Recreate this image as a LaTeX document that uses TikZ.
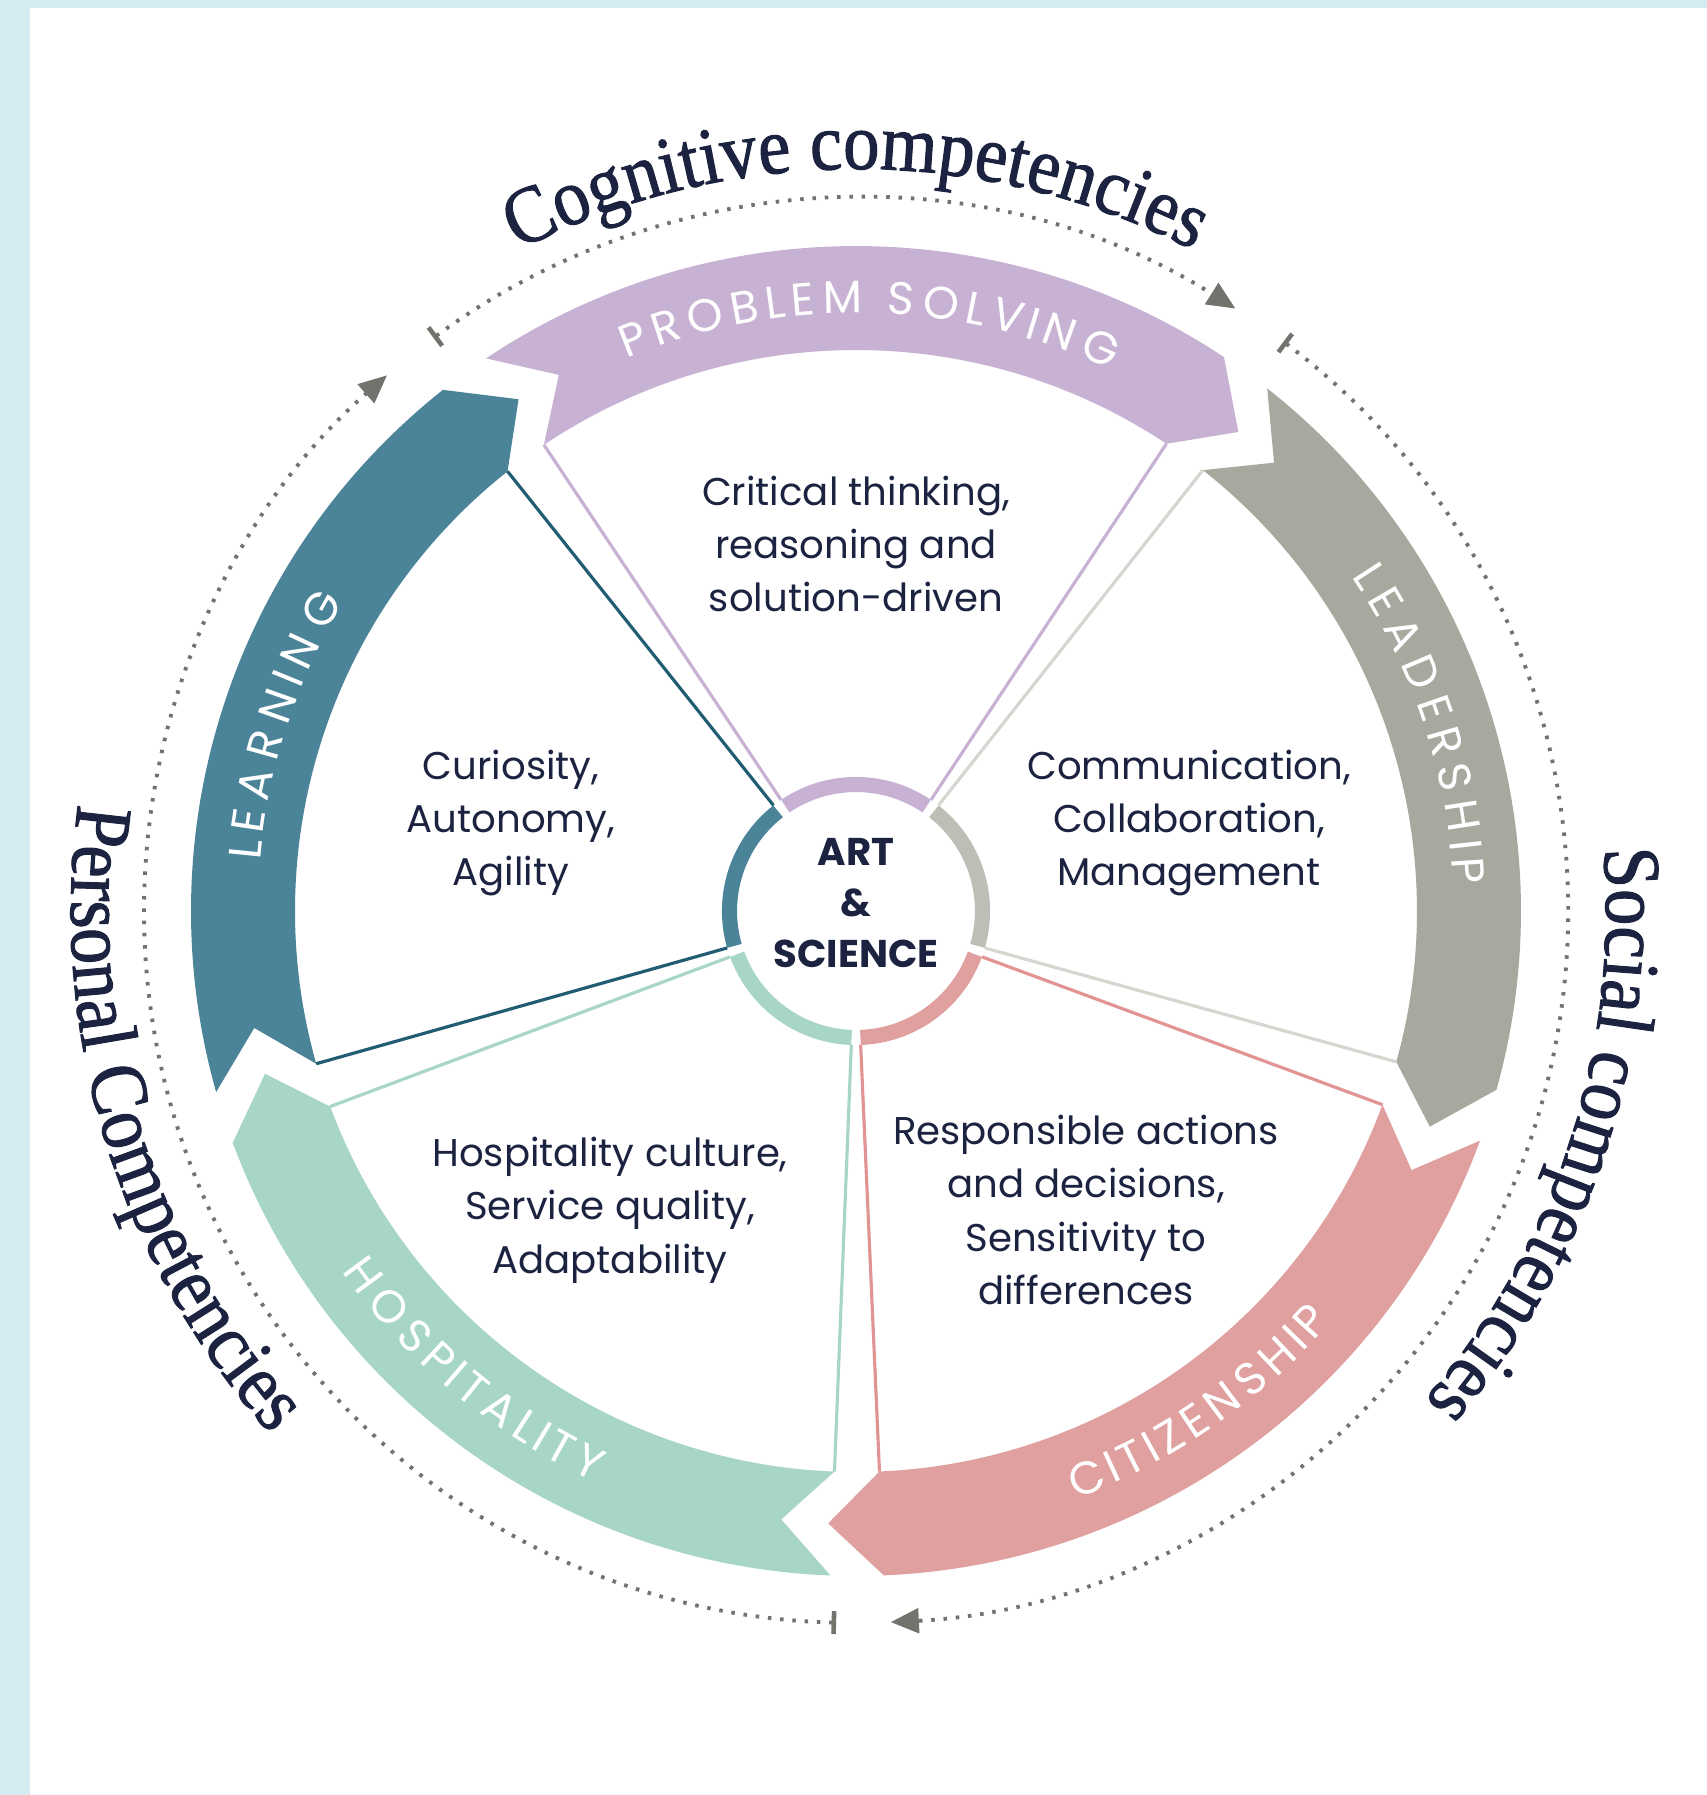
\documentclass[tikz,border=0pt]{standalone}
\usepackage{fontspec}
\usepackage{tikz}
\usetikzlibrary{positioning,arrows.meta,decorations.text}
\setmainfont{Poppins}
\newfontfamily\titlefont[FakeStretch=0.9,FakeBold=1.2]{Liberation Serif}
\newfontfamily\bandfont{Poppins}
\definecolor{bgblue}{RGB}{212,235,242}
\definecolor{navy}{RGB}{28,35,64}
\definecolor{lilac}{RGB}{199,178,211}
\definecolor{stone}{RGB}{168,168,158}
\definecolor{stonering}{RGB}{190,190,182}
\definecolor{stonelight}{RGB}{214,214,208}
\definecolor{rose}{RGB}{224,160,160}
\definecolor{rosedark}{RGB}{226,148,148}
\definecolor{mint}{RGB}{168,214,198}
\definecolor{petrol}{RGB}{75,131,153}
\definecolor{petroldark}{RGB}{32,92,114}
\definecolor{dotgray}{RGB}{112,116,108}

\begin{document}
\begin{tikzpicture}[
      blurb/.style={align=center,text=navy,font=\fontsize{11}{15.2}\selectfont},
      corenode/.style={align=center,text=navy,font=\bfseries\fontsize{11}{14.5}\selectfont},
      hub/.style={line width=4.3pt},
      spoke/.style={line width=0.9pt},
      cycleline/.style={dotgray,line width=1.1pt,dash pattern=on 1pt off 2.5pt,
        {Bar[width=6.5pt,line width=1.3pt]}-{Triangle[length=8pt,width=7pt]}},
      titletext/.style={decorate,decoration={text along path,text align=center,text color=navy,
        text={|\titlefont\fontsize{23}{27}\selectfont|#1}}},
      bandtext/.style={decorate,decoration={text effects along path,text={#1},
        text effects/.cd,text along path,fit text to path,
        characters={text=white,font=\bandfont\fontsize{13}{15}\selectfont}}}
    ]

  % background and frame
  \fill[bgblue] (-8.56,-8.84) rectangle (8.51,9.11);
  \fill[white] (-8.26,-8.84) rectangle (8.51,9.03);
  \useasboundingbox (-8.56,-8.84) rectangle (8.51,9.11);

  % the five arrows of the band
  \foreach \start/\col in {126/lilac,54/stone,-18/rose,-90/mint,198/petrol}
    \fill[\col] ({\start-2.2}:6.65) arc[start angle=\start-2.2,end angle=\start-69.6,radius=6.65]
      -- ({\start-74.6}:6.13) -- ({\start-69.6}:5.61)
      arc[start angle=\start-69.6,end angle=\start-2.2,radius=5.61]
      -- ({\start-7}:6.13) -- cycle;

  % the hub and the spokes
  \foreach \start/\col/\lin in {126/lilac/lilac,54/stonering/stonelight,-18/rose/rosedark,-90/mint/mint,198/petrol/petroldark} {
    \draw[hub,\col] ({\start-2}:1.265) arc[start angle=\start-2,end angle=\start-70,radius=1.265];
    \draw[spoke,\lin] ({\start-2}:1.34) -- ({\start-2.2}:5.61);
    \draw[spoke,\lin] ({\start-70}:1.34) -- ({\start-69.6}:5.61);
  }

  % centre
  \node[corenode] (core) at (0,0.08) {ART\\\&\\SCIENCE};

  % the five sectors
  \node[blurb] (crit) at (0,3.67) {Critical thinking,\\reasoning and\\solution-driven};
  \node[blurb] (curio) at (-3.45,0.88) {Curiosity,\\Autonomy,\\Agility};
  \node[blurb] (comm) at (3.33,0.88) {Communication,\\Collaboration,\\Management};
  \node[blurb] (hosp) at (-2.46,-2.99) {Hospitality culture,\\Service quality,\\Adaptability};
  \node[blurb] (resp) at (2.30,-2.99) {Responsible actions\\and decisions,\\Sensitivity to\\differences};

  % band labels
  \path[bandtext=PROBLEM SOLVING] (112.6:5.98) arc[start angle=112.6,end angle=64.8,radius=5.98];
  \path[bandtext=LEADERSHIP] (34:5.98) arc[start angle=34,end angle=2.5,radius=5.98];
  \path[bandtext=CITIZENSHIP] (-69.5:6.28) arc[start angle=-69.5,end angle=-40.8,radius=6.28];
  \path[bandtext=HOSPITALITY] (215:6.28) arc[start angle=215,end angle=245.4,radius=6.28];
  \path[bandtext=LEARNING] (175.2:5.98) arc[start angle=175.2,end angle=148.9,radius=5.98];

  % the outer cycle
  \draw[cycleline] (126.4:7.12) arc[start angle=126.4,end angle=57.8,radius=7.12];
  \draw[cycleline] (53.1:7.12) arc[start angle=53.1,end angle=-87.2,radius=7.12];
  \draw[cycleline] (268.4:7.12) arc[start angle=268.4,end angle=131.2,radius=7.12];

  % competency groups
  \path[titletext=Cognitive competencies] (140:7.42) arc[start angle=140,end angle=40,radius=7.42];
  \path[titletext=Social competencies] (32:7.50) arc[start angle=32,end angle=-68,radius=7.50];
  \path[titletext=Personal Competencies] (147:7.85) arc[start angle=147,end angle=247,radius=7.85];

\end{tikzpicture}
\end{document}
